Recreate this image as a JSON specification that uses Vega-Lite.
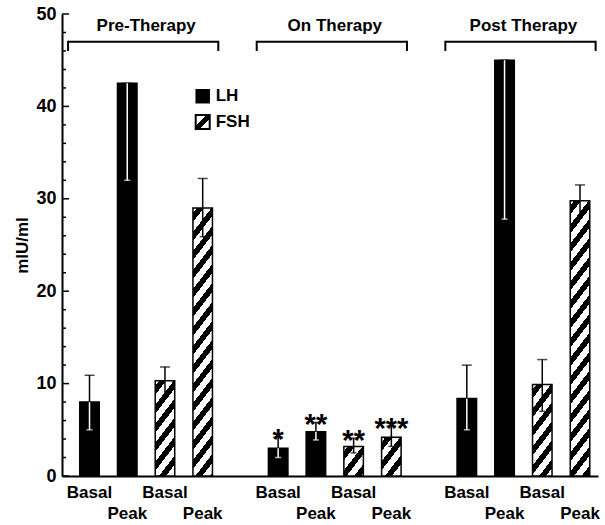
{
  "$schema": "https://vega.github.io/schema/vega-lite/v6.json",
  "width": 536,
  "height": 462,
  "autosize": "none",
  "padding": {"left": 62, "top": 14, "right": 7, "bottom": 49},
  "background": "white",
  "config": {"view": {"stroke": null}, "font": "Liberation Sans", "axisY": {"labelOverlap": false}},
  "resolve": {"axis": {"y": "independent"}},
  "datasets": {
    "bars": [
      {"phase": "Pre-Therapy", "hormone": "LH", "type": "Basal", "slot": "Pre LH Basal", "value": 8.0, "lo": 5.0, "hi": 10.9, "sig": ""},
      {"phase": "Pre-Therapy", "hormone": "LH", "type": "Peak", "slot": "Pre LH Peak", "value": 42.5, "lo": 32.0, "hi": 42.5, "sig": ""},
      {"phase": "Pre-Therapy", "hormone": "FSH", "type": "Basal", "slot": "Pre FSH Basal", "value": 10.3, "lo": 8.6, "hi": 11.8, "sig": ""},
      {"phase": "Pre-Therapy", "hormone": "FSH", "type": "Peak", "slot": "Pre FSH Peak", "value": 29.0, "lo": 25.9, "hi": 32.2, "sig": ""},
      {"phase": "On Therapy", "hormone": "LH", "type": "Basal", "slot": "On LH Basal", "value": 3.0, "lo": 2.0, "hi": 4.2, "sig": "*"},
      {"phase": "On Therapy", "hormone": "LH", "type": "Peak", "slot": "On LH Peak", "value": 4.8, "lo": 3.9, "hi": 5.8, "sig": "**"},
      {"phase": "On Therapy", "hormone": "FSH", "type": "Basal", "slot": "On FSH Basal", "value": 3.2, "lo": 2.5, "hi": 4.1, "sig": "**"},
      {"phase": "On Therapy", "hormone": "FSH", "type": "Peak", "slot": "On FSH Peak", "value": 4.2, "lo": 3.2, "hi": 5.4, "sig": "***"},
      {"phase": "Post Therapy", "hormone": "LH", "type": "Basal", "slot": "Post LH Basal", "value": 8.4, "lo": 5.0, "hi": 12.0, "sig": ""},
      {"phase": "Post Therapy", "hormone": "LH", "type": "Peak", "slot": "Post LH Peak", "value": 45.0, "lo": 27.8, "hi": 45.0, "sig": ""},
      {"phase": "Post Therapy", "hormone": "FSH", "type": "Basal", "slot": "Post FSH Basal", "value": 9.9, "lo": 7.0, "hi": 12.6, "sig": ""},
      {"phase": "Post Therapy", "hormone": "FSH", "type": "Peak", "slot": "Post FSH Peak", "value": 29.8, "lo": 28.0, "hi": 31.5, "sig": ""}
    ],
    "groups": [
      {"phase": "Pre-Therapy", "first": "Pre LH Basal", "mid": "Pre LH Peak", "last": "Pre FSH Peak"},
      {"phase": "On Therapy", "first": "On LH Basal", "mid": "On LH Peak", "last": "On FSH Peak"},
      {"phase": "Post Therapy", "first": "Post LH Basal", "mid": "Post LH Peak", "last": "Post FSH Peak"}
    ],
    "yticks": [
      {"v": 0, "major": true, "anchor": "Pre LH Basal"}, {"v": 2, "major": false, "anchor": "Pre LH Basal"}, {"v": 4, "major": false, "anchor": "Pre LH Basal"}, {"v": 6, "major": false, "anchor": "Pre LH Basal"}, {"v": 8, "major": false, "anchor": "Pre LH Basal"},
      {"v": 10, "major": true, "anchor": "Pre LH Basal"}, {"v": 12, "major": false, "anchor": "Pre LH Basal"}, {"v": 14, "major": false, "anchor": "Pre LH Basal"}, {"v": 16, "major": false, "anchor": "Pre LH Basal"}, {"v": 18, "major": false, "anchor": "Pre LH Basal"},
      {"v": 20, "major": true, "anchor": "Pre LH Basal"}, {"v": 22, "major": false, "anchor": "Pre LH Basal"}, {"v": 24, "major": false, "anchor": "Pre LH Basal"}, {"v": 26, "major": false, "anchor": "Pre LH Basal"}, {"v": 28, "major": false, "anchor": "Pre LH Basal"},
      {"v": 30, "major": true, "anchor": "Pre LH Basal"}, {"v": 32, "major": false, "anchor": "Pre LH Basal"}, {"v": 34, "major": false, "anchor": "Pre LH Basal"}, {"v": 36, "major": false, "anchor": "Pre LH Basal"}, {"v": 38, "major": false, "anchor": "Pre LH Basal"},
      {"v": 40, "major": true, "anchor": "Pre LH Basal"}, {"v": 42, "major": false, "anchor": "Pre LH Basal"}, {"v": 44, "major": false, "anchor": "Pre LH Basal"}, {"v": 46, "major": false, "anchor": "Pre LH Basal"}, {"v": 48, "major": false, "anchor": "Pre LH Basal"},
      {"v": 50, "major": true, "anchor": "Pre LH Basal"}
    ]
  },
  "layer": [
    {
      "data": {"name": "bars"},
      "mark": {"type": "bar", "stroke": "black", "strokeWidth": 1.5},
      "encoding": {
        "x": {
          "field": "slot", "type": "nominal",
          "scale": {"type": "band", "domain": ["Pre LH Basal", "Pre LH Peak", "Pre FSH Basal", "Pre FSH Peak", "gap1", "On LH Basal", "On LH Peak", "On FSH Basal", "On FSH Peak", "gap2", "Post LH Basal", "Post LH Peak", "Post FSH Basal", "Post FSH Peak"], "paddingInner": 0.483, "paddingOuter": 0.3445, "align": 0.683},
          "axis": {"title": null, "domain": true, "domainColor": "black", "domainWidth": 2, "ticks": false, "labelAngle": 0, "labelFont": "Liberation Sans", "labelFontSize": 17, "labelFontWeight": "bold", "labelColor": "black", "labelPadding": 8, "labelLineHeight": 21, "labelOverlap": false, "labelBound": false, "labelBaseline": "top",
            "labelExpr": "indexof(datum.value, 'Basal') >= 0 ? 'Basal' : (indexof(datum.value, 'Peak') >= 0 ? ['', 'Peak'] : '')"}
        },
        "y": {
          "field": "value", "type": "quantitative",
          "scale": {"domain": [0, 50], "nice": false, "zero": true},
          "axis": {"orient": "left", "title": "mIU/ml", "titleFont": "Liberation Sans", "titleFontSize": 17, "titleFontWeight": "bold", "titleColor": "black", "titleX": -40, "titleY": 231, "titleAngle": -90, "titleAlign": "center", "titleBaseline": "middle",
            "values": [0, 10, 20, 30, 40, 50],
            "labelOverlap": false, "labelBound": false,
            "labelFont": "Liberation Sans", "labelFontSize": 18, "labelFontWeight": "bold", "labelColor": "black", "labelPadding": 6,
            "domainColor": "black", "domainWidth": 2, "ticks": false,
            "grid": false}
        },
        "fill": {
          "condition": [
            {"test": "datum.slot === 'Pre FSH Basal'", "value": {"gradient": "linear", "x1": 0, "y1": 0, "x2": 0.7945, "y2": 2.9827, "stops": [
              {"offset": 0, "color": "white"},
              {"offset": 0.01645, "color": "white"}, {"offset": 0.01645, "color": "black"}, {"offset": 0.04605, "color": "black"}, {"offset": 0.04605, "color": "white"},
              {"offset": 0.07895, "color": "white"}, {"offset": 0.07895, "color": "black"}, {"offset": 0.10855, "color": "black"}, {"offset": 0.10855, "color": "white"},
              {"offset": 0.14145, "color": "white"}, {"offset": 0.14145, "color": "black"}, {"offset": 0.17105, "color": "black"}, {"offset": 0.17105, "color": "white"},
              {"offset": 0.20395, "color": "white"}, {"offset": 0.20395, "color": "black"}, {"offset": 0.23355, "color": "black"}, {"offset": 0.23355, "color": "white"},
              {"offset": 0.26645, "color": "white"}, {"offset": 0.26645, "color": "black"}, {"offset": 0.29605, "color": "black"}, {"offset": 0.29605, "color": "white"},
              {"offset": 0.32895, "color": "white"}, {"offset": 0.32895, "color": "black"}, {"offset": 0.35855, "color": "black"}, {"offset": 0.35855, "color": "white"},
              {"offset": 0.39145, "color": "white"}, {"offset": 0.39145, "color": "black"}, {"offset": 0.42105, "color": "black"}, {"offset": 0.42105, "color": "white"},
              {"offset": 1, "color": "white"}]}},
            {"test": "datum.slot === 'Post FSH Basal'", "value": {"gradient": "linear", "x1": 0, "y1": 0, "x2": 0.8552, "y2": 3.0862, "stops": [
              {"offset": 0, "color": "white"},
              {"offset": 0.01645, "color": "white"}, {"offset": 0.01645, "color": "black"}, {"offset": 0.04605, "color": "black"}, {"offset": 0.04605, "color": "white"},
              {"offset": 0.07895, "color": "white"}, {"offset": 0.07895, "color": "black"}, {"offset": 0.10855, "color": "black"}, {"offset": 0.10855, "color": "white"},
              {"offset": 0.14145, "color": "white"}, {"offset": 0.14145, "color": "black"}, {"offset": 0.17105, "color": "black"}, {"offset": 0.17105, "color": "white"},
              {"offset": 0.20395, "color": "white"}, {"offset": 0.20395, "color": "black"}, {"offset": 0.23355, "color": "black"}, {"offset": 0.23355, "color": "white"},
              {"offset": 0.26645, "color": "white"}, {"offset": 0.26645, "color": "black"}, {"offset": 0.29605, "color": "black"}, {"offset": 0.29605, "color": "white"},
              {"offset": 0.32895, "color": "white"}, {"offset": 0.32895, "color": "black"}, {"offset": 0.35855, "color": "black"}, {"offset": 0.35855, "color": "white"},
              {"offset": 0.39145, "color": "white"}, {"offset": 0.39145, "color": "black"}, {"offset": 0.42105, "color": "black"}, {"offset": 0.42105, "color": "white"},
              {"offset": 1, "color": "white"}]}},
            {"test": "datum.slot === 'On FSH Basal'", "value": {"gradient": "linear", "x1": 0, "y1": 0, "x2": 5.080, "y2": 5.926, "stops": [
              {"offset": 0, "color": "white"},
              {"offset": 0.01645, "color": "white"}, {"offset": 0.01645, "color": "black"}, {"offset": 0.04605, "color": "black"}, {"offset": 0.04605, "color": "white"},
              {"offset": 0.07895, "color": "white"}, {"offset": 0.07895, "color": "black"}, {"offset": 0.10855, "color": "black"}, {"offset": 0.10855, "color": "white"},
              {"offset": 0.14145, "color": "white"}, {"offset": 0.14145, "color": "black"}, {"offset": 0.17105, "color": "black"}, {"offset": 0.17105, "color": "white"},
              {"offset": 0.20395, "color": "white"}, {"offset": 0.20395, "color": "black"}, {"offset": 0.23355, "color": "black"}, {"offset": 0.23355, "color": "white"},
              {"offset": 1, "color": "white"}]}},
            {"test": "datum.slot === 'On FSH Peak'", "value": {"gradient": "linear", "x1": 0, "y1": 0, "x2": 3.5864, "y2": 5.4905, "stops": [
              {"offset": 0, "color": "white"},
              {"offset": 0.01645, "color": "white"}, {"offset": 0.01645, "color": "black"}, {"offset": 0.04605, "color": "black"}, {"offset": 0.04605, "color": "white"},
              {"offset": 0.07895, "color": "white"}, {"offset": 0.07895, "color": "black"}, {"offset": 0.10855, "color": "black"}, {"offset": 0.10855, "color": "white"},
              {"offset": 0.14145, "color": "white"}, {"offset": 0.14145, "color": "black"}, {"offset": 0.17105, "color": "black"}, {"offset": 0.17105, "color": "white"},
              {"offset": 0.20395, "color": "white"}, {"offset": 0.20395, "color": "black"}, {"offset": 0.23355, "color": "black"}, {"offset": 0.23355, "color": "white"},
              {"offset": 1, "color": "white"}]}},
            {"test": "datum.slot === 'Pre FSH Peak'", "value": {"gradient": "linear", "x1": 0, "y1": 0, "x2": 0.10638, "y2": 1.12443, "stops": [
              {"offset": 0, "color": "white"},
              {"offset": 0.01645, "color": "white"}, {"offset": 0.01645, "color": "black"}, {"offset": 0.04605, "color": "black"}, {"offset": 0.04605, "color": "white"},
              {"offset": 0.07895, "color": "white"}, {"offset": 0.07895, "color": "black"}, {"offset": 0.10855, "color": "black"}, {"offset": 0.10855, "color": "white"},
              {"offset": 0.14145, "color": "white"}, {"offset": 0.14145, "color": "black"}, {"offset": 0.17105, "color": "black"}, {"offset": 0.17105, "color": "white"},
              {"offset": 0.20395, "color": "white"}, {"offset": 0.20395, "color": "black"}, {"offset": 0.23355, "color": "black"}, {"offset": 0.23355, "color": "white"},
              {"offset": 0.26645, "color": "white"}, {"offset": 0.26645, "color": "black"}, {"offset": 0.29605, "color": "black"}, {"offset": 0.29605, "color": "white"},
              {"offset": 0.32895, "color": "white"}, {"offset": 0.32895, "color": "black"}, {"offset": 0.35855, "color": "black"}, {"offset": 0.35855, "color": "white"},
              {"offset": 0.39145, "color": "white"}, {"offset": 0.39145, "color": "black"}, {"offset": 0.42105, "color": "black"}, {"offset": 0.42105, "color": "white"},
              {"offset": 0.45395, "color": "white"}, {"offset": 0.45395, "color": "black"}, {"offset": 0.48355, "color": "black"}, {"offset": 0.48355, "color": "white"},
              {"offset": 0.51645, "color": "white"}, {"offset": 0.51645, "color": "black"}, {"offset": 0.54605, "color": "black"}, {"offset": 0.54605, "color": "white"},
              {"offset": 0.57895, "color": "white"}, {"offset": 0.57895, "color": "black"}, {"offset": 0.60855, "color": "black"}, {"offset": 0.60855, "color": "white"},
              {"offset": 0.64145, "color": "white"}, {"offset": 0.64145, "color": "black"}, {"offset": 0.67105, "color": "black"}, {"offset": 0.67105, "color": "white"},
              {"offset": 0.70395, "color": "white"}, {"offset": 0.70395, "color": "black"}, {"offset": 0.73355, "color": "black"}, {"offset": 0.73355, "color": "white"},
              {"offset": 0.76645, "color": "white"}, {"offset": 0.76645, "color": "black"}, {"offset": 0.79605, "color": "black"}, {"offset": 0.79605, "color": "white"},
              {"offset": 0.82895, "color": "white"}, {"offset": 0.82895, "color": "black"}, {"offset": 0.85855, "color": "black"}, {"offset": 0.85855, "color": "white"},
              {"offset": 0.89145, "color": "white"}, {"offset": 0.89145, "color": "black"}, {"offset": 0.92105, "color": "black"}, {"offset": 0.92105, "color": "white"},
              {"offset": 0.95395, "color": "white"}, {"offset": 0.95395, "color": "black"}, {"offset": 0.98355, "color": "black"}, {"offset": 0.98355, "color": "white"},
              {"offset": 1, "color": "white"}]}},
            {"test": "datum.slot === 'Post FSH Peak'", "value": {"gradient": "linear", "x1": 0, "y1": 0, "x2": 0.10079, "y2": 1.09476, "stops": [
              {"offset": 0, "color": "white"},
              {"offset": 0.01645, "color": "white"}, {"offset": 0.01645, "color": "black"}, {"offset": 0.04605, "color": "black"}, {"offset": 0.04605, "color": "white"},
              {"offset": 0.07895, "color": "white"}, {"offset": 0.07895, "color": "black"}, {"offset": 0.10855, "color": "black"}, {"offset": 0.10855, "color": "white"},
              {"offset": 0.14145, "color": "white"}, {"offset": 0.14145, "color": "black"}, {"offset": 0.17105, "color": "black"}, {"offset": 0.17105, "color": "white"},
              {"offset": 0.20395, "color": "white"}, {"offset": 0.20395, "color": "black"}, {"offset": 0.23355, "color": "black"}, {"offset": 0.23355, "color": "white"},
              {"offset": 0.26645, "color": "white"}, {"offset": 0.26645, "color": "black"}, {"offset": 0.29605, "color": "black"}, {"offset": 0.29605, "color": "white"},
              {"offset": 0.32895, "color": "white"}, {"offset": 0.32895, "color": "black"}, {"offset": 0.35855, "color": "black"}, {"offset": 0.35855, "color": "white"},
              {"offset": 0.39145, "color": "white"}, {"offset": 0.39145, "color": "black"}, {"offset": 0.42105, "color": "black"}, {"offset": 0.42105, "color": "white"},
              {"offset": 0.45395, "color": "white"}, {"offset": 0.45395, "color": "black"}, {"offset": 0.48355, "color": "black"}, {"offset": 0.48355, "color": "white"},
              {"offset": 0.51645, "color": "white"}, {"offset": 0.51645, "color": "black"}, {"offset": 0.54605, "color": "black"}, {"offset": 0.54605, "color": "white"},
              {"offset": 0.57895, "color": "white"}, {"offset": 0.57895, "color": "black"}, {"offset": 0.60855, "color": "black"}, {"offset": 0.60855, "color": "white"},
              {"offset": 0.64145, "color": "white"}, {"offset": 0.64145, "color": "black"}, {"offset": 0.67105, "color": "black"}, {"offset": 0.67105, "color": "white"},
              {"offset": 0.70395, "color": "white"}, {"offset": 0.70395, "color": "black"}, {"offset": 0.73355, "color": "black"}, {"offset": 0.73355, "color": "white"},
              {"offset": 0.76645, "color": "white"}, {"offset": 0.76645, "color": "black"}, {"offset": 0.79605, "color": "black"}, {"offset": 0.79605, "color": "white"},
              {"offset": 0.82895, "color": "white"}, {"offset": 0.82895, "color": "black"}, {"offset": 0.85855, "color": "black"}, {"offset": 0.85855, "color": "white"},
              {"offset": 0.89145, "color": "white"}, {"offset": 0.89145, "color": "black"}, {"offset": 0.92105, "color": "black"}, {"offset": 0.92105, "color": "white"},
              {"offset": 0.95395, "color": "white"}, {"offset": 0.95395, "color": "black"}, {"offset": 0.98355, "color": "black"}, {"offset": 0.98355, "color": "white"},
              {"offset": 1, "color": "white"}]}}
          ],
          "value": "black"
        }
      }
    },
    {
      "data": {"name": "yticks"},
      "transform": [{"filter": "datum.major"}],
      "mark": {"type": "rule", "color": "black", "strokeWidth": 1.5},
      "encoding": {
        "x": {"field": "anchor", "type": "nominal", "bandPosition": -0.9104, "scale": {"type": "band", "domain": ["Pre LH Basal", "Pre LH Peak", "Pre FSH Basal", "Pre FSH Peak", "gap1", "On LH Basal", "On LH Peak", "On FSH Basal", "On FSH Peak", "gap2", "Post LH Basal", "Post LH Peak", "Post FSH Basal", "Post FSH Peak"], "paddingInner": 0.483, "paddingOuter": 0.3445, "align": 0.683}},
        "x2": {"field": "anchor", "bandPosition": -0.5516},
        "y": {"field": "v", "type": "quantitative", "axis": null}
      }
    },
    {
      "data": {"name": "yticks"},
      "transform": [{"filter": "!datum.major"}],
      "mark": {"type": "rule", "color": "black", "strokeWidth": 1.5},
      "encoding": {
        "x": {"field": "anchor", "type": "nominal", "bandPosition": -0.9104, "scale": {"type": "band", "domain": ["Pre LH Basal", "Pre LH Peak", "Pre FSH Basal", "Pre FSH Peak", "gap1", "On LH Basal", "On LH Peak", "On FSH Basal", "On FSH Peak", "gap2", "Post LH Basal", "Post LH Peak", "Post FSH Basal", "Post FSH Peak"], "paddingInner": 0.483, "paddingOuter": 0.3445, "align": 0.683}},
        "x2": {"field": "anchor", "bandPosition": -0.7054},
        "y": {"field": "v", "type": "quantitative", "axis": null}
      }
    },
    {
      "data": {"name": "bars"},
      "mark": {"type": "rule", "color": "black", "strokeWidth": 1.5},
      "encoding": {
        "x": {"field": "slot", "type": "nominal", "scale": {"type": "band", "domain": ["Pre LH Basal", "Pre LH Peak", "Pre FSH Basal", "Pre FSH Peak", "gap1", "On LH Basal", "On LH Peak", "On FSH Basal", "On FSH Peak", "gap2", "Post LH Basal", "Post LH Peak", "Post FSH Basal", "Post FSH Peak"], "paddingInner": 0.483, "paddingOuter": 0.3445, "align": 0.683}},
        "y": {"field": "value", "type": "quantitative", "axis": null},
        "y2": {"field": "hi"}
      }
    },
    {
      "data": {"name": "bars"},
      "mark": {"type": "tick", "color": "black", "thickness": 1.5, "size": 10},
      "encoding": {
        "x": {"field": "slot", "type": "nominal", "scale": {"type": "band", "domain": ["Pre LH Basal", "Pre LH Peak", "Pre FSH Basal", "Pre FSH Peak", "gap1", "On LH Basal", "On LH Peak", "On FSH Basal", "On FSH Peak", "gap2", "Post LH Basal", "Post LH Peak", "Post FSH Basal", "Post FSH Peak"], "paddingInner": 0.483, "paddingOuter": 0.3445, "align": 0.683}},
        "y": {"field": "hi", "type": "quantitative", "axis": null}
      }
    },
    {
      "data": {"name": "bars"},
      "mark": {"type": "rule", "strokeWidth": 1.5},
      "encoding": {
        "x": {"field": "slot", "type": "nominal", "scale": {"type": "band", "domain": ["Pre LH Basal", "Pre LH Peak", "Pre FSH Basal", "Pre FSH Peak", "gap1", "On LH Basal", "On LH Peak", "On FSH Basal", "On FSH Peak", "gap2", "Post LH Basal", "Post LH Peak", "Post FSH Basal", "Post FSH Peak"], "paddingInner": 0.483, "paddingOuter": 0.3445, "align": 0.683}},
        "y": {"field": "lo", "type": "quantitative", "axis": null},
        "y2": {"field": "value"},
        "color": {"condition": {"test": "datum.hormone === 'LH'", "value": "white"}, "value": "black"}
      }
    },
    {
      "data": {"name": "bars"},
      "mark": {"type": "tick", "thickness": 1.5, "size": 6},
      "encoding": {
        "x": {"field": "slot", "type": "nominal", "scale": {"type": "band", "domain": ["Pre LH Basal", "Pre LH Peak", "Pre FSH Basal", "Pre FSH Peak", "gap1", "On LH Basal", "On LH Peak", "On FSH Basal", "On FSH Peak", "gap2", "Post LH Basal", "Post LH Peak", "Post FSH Basal", "Post FSH Peak"], "paddingInner": 0.483, "paddingOuter": 0.3445, "align": 0.683}},
        "y": {"field": "lo", "type": "quantitative", "axis": null},
        "color": {"condition": {"test": "datum.hormone === 'LH'", "value": "white"}, "value": "black"}
      }
    },
    {
      "data": {"name": "bars"},
      "mark": {"type": "text", "font": "Liberation Sans", "fontSize": 29, "fontWeight": "bold", "baseline": "alphabetic", "dy": 12, "color": "black"},
      "encoding": {
        "x": {"field": "slot", "type": "nominal", "scale": {"type": "band", "domain": ["Pre LH Basal", "Pre LH Peak", "Pre FSH Basal", "Pre FSH Peak", "gap1", "On LH Basal", "On LH Peak", "On FSH Basal", "On FSH Peak", "gap2", "Post LH Basal", "Post LH Peak", "Post FSH Basal", "Post FSH Peak"], "paddingInner": 0.483, "paddingOuter": 0.3445, "align": 0.683}},
        "y": {"field": "hi", "type": "quantitative", "axis": null},
        "text": {"field": "sig"}
      }
    },
    {
      "data": {"name": "groups"},
      "mark": {"type": "rule", "color": "black", "strokeWidth": 2},
      "encoding": {
        "x": {"field": "first", "type": "nominal", "bandPosition": -0.6, "scale": {"type": "band", "domain": ["Pre LH Basal", "Pre LH Peak", "Pre FSH Basal", "Pre FSH Peak", "gap1", "On LH Basal", "On LH Peak", "On FSH Basal", "On FSH Peak", "gap2", "Post LH Basal", "Post LH Peak", "Post FSH Basal", "Post FSH Peak"], "paddingInner": 0.483, "paddingOuter": 0.3445, "align": 0.683}},
        "x2": {"field": "last", "bandPosition": 1.3},
        "y": {"datum": 47.0, "type": "quantitative", "axis": null}
      }
    },
    {
      "data": {"name": "groups"},
      "mark": {"type": "rule", "color": "black", "strokeWidth": 2},
      "encoding": {
        "x": {"field": "first", "type": "nominal", "bandPosition": -0.6, "scale": {"type": "band", "domain": ["Pre LH Basal", "Pre LH Peak", "Pre FSH Basal", "Pre FSH Peak", "gap1", "On LH Basal", "On LH Peak", "On FSH Basal", "On FSH Peak", "gap2", "Post LH Basal", "Post LH Peak", "Post FSH Basal", "Post FSH Peak"], "paddingInner": 0.483, "paddingOuter": 0.3445, "align": 0.683}},
        "y": {"datum": 47.1, "type": "quantitative", "axis": null},
        "y2": {"datum": 46.0}
      }
    },
    {
      "data": {"name": "groups"},
      "mark": {"type": "rule", "color": "black", "strokeWidth": 2},
      "encoding": {
        "x": {"field": "last", "type": "nominal", "bandPosition": 1.3, "scale": {"type": "band", "domain": ["Pre LH Basal", "Pre LH Peak", "Pre FSH Basal", "Pre FSH Peak", "gap1", "On LH Basal", "On LH Peak", "On FSH Basal", "On FSH Peak", "gap2", "Post LH Basal", "Post LH Peak", "Post FSH Basal", "Post FSH Peak"], "paddingInner": 0.483, "paddingOuter": 0.3445, "align": 0.683}},
        "y": {"datum": 47.1, "type": "quantitative", "axis": null},
        "y2": {"datum": 46.0}
      }
    },
    {
      "data": {"name": "groups"},
      "mark": {"type": "text", "font": "Liberation Sans", "fontSize": 17, "fontWeight": "bold", "color": "black", "align": "center", "baseline": "middle"},
      "encoding": {
        "x": {"field": "mid", "type": "nominal", "bandPosition": 1.47, "scale": {"type": "band", "domain": ["Pre LH Basal", "Pre LH Peak", "Pre FSH Basal", "Pre FSH Peak", "gap1", "On LH Basal", "On LH Peak", "On FSH Basal", "On FSH Peak", "gap2", "Post LH Basal", "Post LH Peak", "Post FSH Basal", "Post FSH Peak"], "paddingInner": 0.483, "paddingOuter": 0.3445, "align": 0.683}},
        "y": {"datum": 48.7, "type": "quantitative", "axis": null},
        "text": {"field": "phase"}
      }
    },
    {
      "data": {"values": [{"key": "LH"}]},
      "mark": {"type": "point", "shape": "square", "size": 210, "filled": true, "color": "black", "opacity": 1},
      "encoding": {
        "x": {"datum": "Pre FSH Peak", "type": "nominal", "scale": {"type": "band", "domain": ["Pre LH Basal", "Pre LH Peak", "Pre FSH Basal", "Pre FSH Peak", "gap1", "On LH Basal", "On LH Peak", "On FSH Basal", "On FSH Peak", "gap2", "Post LH Basal", "Post LH Peak", "Post FSH Basal", "Post FSH Peak"], "paddingInner": 0.483, "paddingOuter": 0.3445, "align": 0.683}},
        "y": {"datum": 41.1, "type": "quantitative", "axis": null}
      }
    },
    {
      "data": {"values": [{"key": "FSH"}]},
      "mark": {"type": "point", "shape": "square", "size": 196, "filled": true, "stroke": "black", "strokeWidth": 2, "opacity": 1,
        "fill": {"gradient": "linear", "x1": 0, "y1": 0, "x2": 1, "y2": 1, "stops": [
          {"offset": 0, "color": "white"}, {"offset": 0.38, "color": "white"}, {"offset": 0.38, "color": "black"}, {"offset": 0.62, "color": "black"}, {"offset": 0.62, "color": "white"}, {"offset": 1, "color": "white"}]}},
      "encoding": {
        "x": {"datum": "Pre FSH Peak", "type": "nominal", "scale": {"type": "band", "domain": ["Pre LH Basal", "Pre LH Peak", "Pre FSH Basal", "Pre FSH Peak", "gap1", "On LH Basal", "On LH Peak", "On FSH Basal", "On FSH Peak", "gap2", "Post LH Basal", "Post LH Peak", "Post FSH Basal", "Post FSH Peak"], "paddingInner": 0.483, "paddingOuter": 0.3445, "align": 0.683}},
        "y": {"datum": 38.3, "type": "quantitative", "axis": null}
      }
    },
    {
      "data": {"values": [{"key": "LH", "y": 41.1}, {"key": "FSH", "y": 38.3}]},
      "mark": {"type": "text", "font": "Liberation Sans", "fontSize": 17, "fontWeight": "bold", "color": "black", "align": "left", "baseline": "middle", "dx": 13},
      "encoding": {
        "x": {"datum": "Pre FSH Peak", "type": "nominal", "scale": {"type": "band", "domain": ["Pre LH Basal", "Pre LH Peak", "Pre FSH Basal", "Pre FSH Peak", "gap1", "On LH Basal", "On LH Peak", "On FSH Basal", "On FSH Peak", "gap2", "Post LH Basal", "Post LH Peak", "Post FSH Basal", "Post FSH Peak"], "paddingInner": 0.483, "paddingOuter": 0.3445, "align": 0.683}},
        "y": {"field": "y", "type": "quantitative", "axis": null},
        "text": {"field": "key"}
      }
    }
  ]
}
